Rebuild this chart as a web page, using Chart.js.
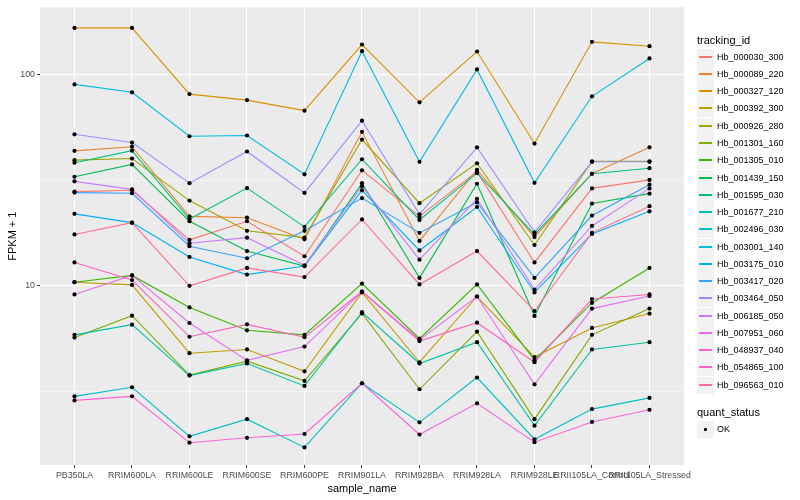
<!DOCTYPE html>
<html>
<head>
<meta charset="utf-8">
<script src="https://cdn.jsdelivr.net/npm/chart.js@4"></script>
<style>
  html, body { margin: 0; padding: 0; background: #ffffff; }
  #wrap { position: relative; width: 800px; height: 500px; font-family: "Liberation Sans", Arial, sans-serif; }
  #chartBox { position: absolute; left: 0; top: 0; width: 800px; height: 500px; }
  .lg-title { position: absolute; left: 697px; font-size: 11px; color: #000; line-height: 13px; white-space: nowrap; }
  .lg-key { position: absolute; left: 697px; width: 17px; height: 17px; background: #F2F2F2; }
  .lg-line { position: absolute; left: 2px; width: 13px; top: 7px; height: 2px; }
  .lg-dot { position: absolute; left: 7px; top: 7px; width: 3px; height: 3px; background: #000; border-radius: 1px; }
  .lg-label { position: absolute; left: 717px; font-size: 9px; color: #000; line-height: 11px; white-space: nowrap; }
</style>
</head>
<body>
<div id="wrap">
  <div id="chartBox"><canvas id="c"></canvas></div>
  <div id="legend"></div>
</div>
<script>
// ---- data ----
const samples = ["PB350LA", "RRIM600LA", "RRIM600LE", "RRIM600SE", "RRIM600PE", "RRIM901LA",
                 "RRIM928BA", "RRIM928LA", "RRIM928LE", "RRII105LA_Control", "RRII105LA_Stressed"];

const trackingIds = ["Hb_000030_300", "Hb_000089_220", "Hb_000327_120", "Hb_000392_300", "Hb_000926_280",
                     "Hb_001301_160", "Hb_001305_010", "Hb_001439_150", "Hb_001595_030", "Hb_001677_210",
                     "Hb_002496_030", "Hb_003001_140", "Hb_003175_010", "Hb_003417_020", "Hb_003464_050",
                     "Hb_006185_050", "Hb_007951_060", "Hb_048937_040", "Hb_054865_100", "Hb_096563_010"];

const Hb_000030_300 = [27.9, 28.3, 16.5, 20.2, 13.8, 35.2, 21.3, 34.7, 12.9, 28.9, 31.7];
const Hb_000089_220 = [43.5, 45.5, 21.3, 21.0, 16.6, 53.5, 16.3, 35.4, 17.0, 33.9, 45.2];
const Hb_000327_120 = [166, 166, 80.7, 75.6, 67.4, 138.5, 73.8, 128.4, 47.1, 142.6, 136];
const Hb_000392_300 = [10.4, 10.1, 4.80, 5.0, 3.94, 9.3, 4.35, 8.9, 4.6, 6.32, 7.39];
const Hb_000926_280 = [39.3, 40.0, 25.3, 18.2, 16.9, 49.2, 24.6, 38.0, 15.6, 38.8, 38.8];
const Hb_001301_160 = [5.69, 7.22, 3.78, 4.40, 3.55, 7.4, 3.24, 6.07, 2.34, 5.86, 7.8];
const Hb_001305_010 = [10.4, 11.2, 7.9, 6.16, 5.86, 10.25, 5.62, 10.15, 4.45, 8.3, 12.15];
const Hb_001439_150 = [32.8, 37.5, 20.2, 14.6, 12.4, 30.6, 10.9, 30.4, 7.2, 24.5, 27.3];
const Hb_001595_030 = [38.2, 43.6, 20.7, 29.0, 19.0, 39.7, 20.5, 34.1, 17.5, 33.9, 36.0];
const Hb_001677_210 = [5.86, 6.55, 3.76, 4.29, 3.36, 7.5, 4.29, 5.41, 2.18, 5.0, 5.41];
const Hb_002496_030 = [3.0, 3.31, 1.94, 2.34, 1.72, 3.46, 2.26, 3.68, 1.88, 2.61, 2.95];
const Hb_003001_140 = [89.7, 82.3, 51.0, 51.4, 33.7, 128.8, 38.6, 105.6, 30.7, 78.8, 119];
const Hb_003175_010 = [21.9, 19.9, 13.7, 11.3, 12.4, 28.3, 14.7, 23.6, 9.3, 17.6, 22.5];
const Hb_003417_020 = [27.6, 27.4, 15.4, 13.5, 18.2, 26.0, 17.8, 24.8, 10.9, 21.5, 30.1];
const Hb_003464_050 = [52.1, 47.6, 30.6, 43.2, 27.5, 60.4, 21.8, 45.2, 17.9, 38.6, 38.6];
const Hb_006185_050 = [31.2, 28.6, 15.9, 16.9, 12.5, 29.6, 13.3, 25.8, 9.6, 19.2, 28.9];
const Hb_007951_060 = [9.1, 11.2, 6.67, 4.44, 5.16, 9.4, 5.55, 8.9, 3.42, 7.8, 8.95];
const Hb_048937_040 = [2.87, 3.0, 1.81, 1.91, 1.99, 3.46, 1.98, 2.78, 1.82, 2.27, 2.59];
const Hb_054865_100 = [12.9, 10.65, 5.74, 6.57, 5.71, 9.4, 5.48, 6.69, 4.35, 8.66, 9.1];
const Hb_096563_010 = [17.5, 19.9, 10.0, 12.15, 11.0, 20.6, 10.15, 14.6, 7.6, 17.8, 23.8];

const seriesValues = [Hb_000030_300, Hb_000089_220, Hb_000327_120, Hb_000392_300, Hb_000926_280,
                      Hb_001301_160, Hb_001305_010, Hb_001439_150, Hb_001595_030, Hb_001677_210,
                      Hb_002496_030, Hb_003001_140, Hb_003175_010, Hb_003417_020, Hb_003464_050,
                      Hb_006185_050, Hb_007951_060, Hb_048937_040, Hb_054865_100, Hb_096563_010];

const yMajorTicks = [10, 100];
const yMinorTicks = [Math.sqrt(10), Math.sqrt(1000)];
const quantStatus = ["OK"];

// ---- styles ----
const palette = ["#F8766D", "#EA8331", "#D89000", "#C09B00", "#A3A500", "#7CAE00", "#39B600", "#00BB4E",
                 "#00BF7D", "#00C1A3", "#00BFC4", "#00BAE0", "#00B0F6", "#35A2FF", "#9590FF", "#C77CFF",
                 "#E76BF3", "#FA62DB", "#FF62BC", "#FF6C91"];

const FONT = '"Liberation Sans", Arial, sans-serif';
Chart.defaults.font.family = FONT;

const toPoints = vals => vals.map((v, i) => ({ x: i, y: v }));

const datasets = [];
seriesValues.forEach((vals, k) => {
  datasets.push({
    label: trackingIds[k],
    data: toPoints(vals),
    borderColor: palette[k],
    backgroundColor: palette[k],
    borderWidth: 1.1,
    pointRadius: 0,
    tension: 0,
    order: 100 - k
  });
});
seriesValues.forEach((vals, k) => {
  datasets.push({
    label: trackingIds[k] + " (OK)",
    data: toPoints(vals),
    showLine: false,
    pointRadius: 2.1,
    pointBackgroundColor: "#000",
    pointBorderWidth: 0,
    borderColor: "#000",
    order: 0
  });
});

const panelBg = {
  id: "panelBg",
  beforeDraw(chart) {
    const { ctx, chartArea: a } = chart;
    ctx.save();
    ctx.fillStyle = "#EBEBEB";
    ctx.fillRect(a.left, a.top, a.right - a.left, a.bottom - a.top);
    ctx.restore();
  }
};

const isMajor = v => yMajorTicks.some(t => Math.abs(t - v) < 1e-9);

new Chart(document.getElementById("c"), {
  type: "line",
  data: { datasets },
  plugins: [panelBg],
  options: {
    responsive: true,
    maintainAspectRatio: false,
    animation: false,
    layout: { padding: { left: 0, right: 116, top: 5, bottom: 0 } },
    plugins: { legend: { display: false }, tooltip: { enabled: false } },
    scales: {
      x: {
        type: "linear",
        min: -0.6,
        max: samples.length - 1 + 0.6,
        afterBuildTicks: s => { s.ticks = samples.map((_, i) => ({ value: i })); },
        afterFit: s => { s.height = 35; },
        border: { display: false },
        grid: { color: "#FFFFFF", lineWidth: 1.07, drawTicks: true, tickLength: 3, tickColor: "#333333", tickWidth: 1 },
        ticks: {
          autoSkip: false, maxRotation: 0, minRotation: 0, padding: 2,
          color: "#4D4D4D", font: { size: 8.8, family: FONT },
          callback: v => samples[v]
        },
        title: { display: true, text: "sample_name", color: "#000", font: { size: 11, family: FONT }, padding: { top: 0, bottom: 4 } }
      },
      y: {
        type: "logarithmic",
        min: 1.42,
        max: 207.8,
        afterBuildTicks: s => { s.ticks = yMinorTicks.concat(yMajorTicks).sort((a, b) => a - b).map(v => ({ value: v })); },
        afterFit: s => { s.width = 40; },
        border: { display: false },
        grid: {
          color: "#FFFFFF",
          lineWidth: c => (c.tick && isMajor(c.tick.value)) ? 1.07 : 0.53,
          drawTicks: true, tickLength: 3,
          tickColor: c => (c.tick && isMajor(c.tick.value)) ? "#333333" : "rgba(0,0,0,0)",
          tickWidth: 1
        },
        ticks: {
          autoSkip: false, padding: 2,
          color: "#4D4D4D", font: { size: 8.8, family: FONT },
          callback: v => isMajor(v) ? String(Math.round(v)) : ""
        },
        title: { display: true, text: "FPKM + 1", color: "#000", font: { size: 11, family: FONT }, padding: { top: 6, bottom: 0 } }
      }
    }
  }
});

// ---- legend (HTML text) ----
const lg = document.getElementById("legend");
function add(cls, top, text, extra) {
  const d = document.createElement("div");
  d.className = cls;
  d.style.top = top + "px";
  if (text !== undefined) d.textContent = text;
  if (extra) extra(d);
  lg.appendChild(d);
  return d;
}
add("lg-title", 34, "tracking_id");
trackingIds.forEach((name, k) => {
  const top = Math.round(48.7 + k * 17.26);
  add("lg-key", top, undefined, d => {
    const l = document.createElement("div");
    l.className = "lg-line";
    l.style.background = palette[k];
    d.appendChild(l);
  });
  add("lg-label", top + 3, name);
});
add("lg-title", 406, "quant_status");
quantStatus.forEach((s, k) => {
  const top = Math.round(420.5 + k * 17.26);
  add("lg-key", top, undefined, d => {
    const dot = document.createElement("div");
    dot.className = "lg-dot";
    d.appendChild(dot);
  });
  add("lg-label", top + 3, s);
});
</script>
</body>
</html>
